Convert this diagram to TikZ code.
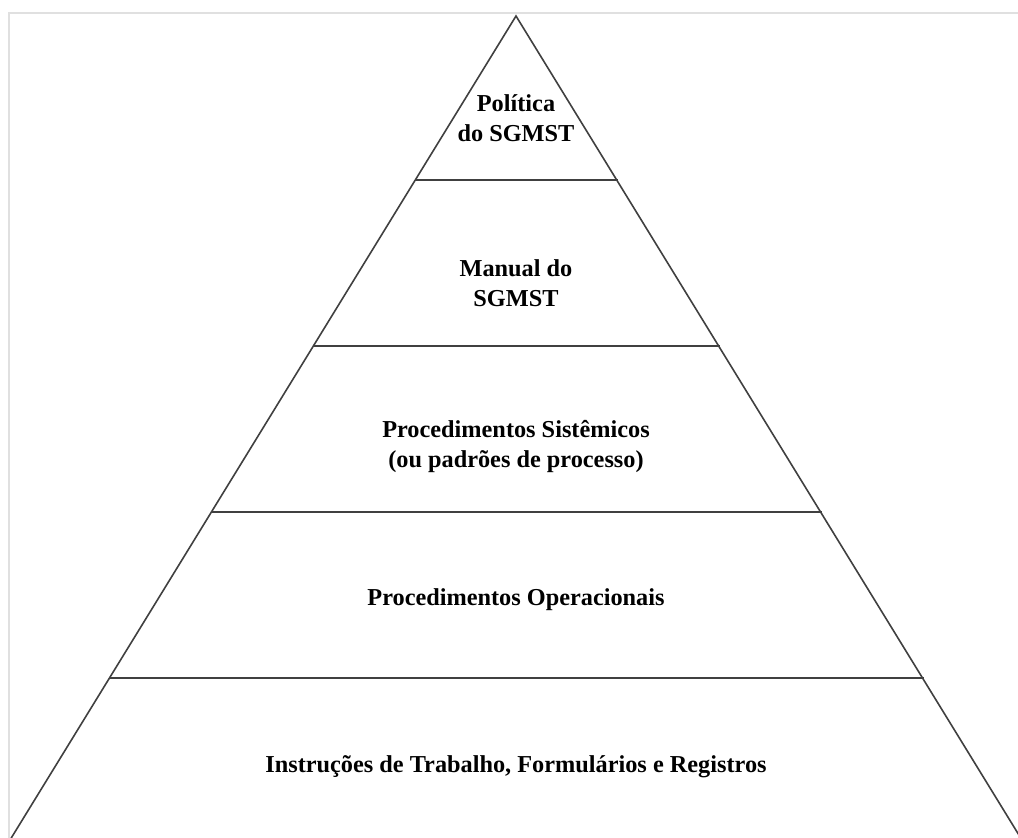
\documentclass[tikz,border=0pt]{standalone}
\usepackage{fontspec}
\setmainfont{Liberation Serif}
\begin{document}
\begin{tikzpicture}[x=1pt,y=-1pt,
  edge/.style={draw=black!75,line width=1.6pt},
  frame/.style={draw=black!12,line width=1.8pt},
  lbl/.style={font=\bfseries\fontsize{24.3}{30}\selectfont,align=center,text=black,inner sep=0pt}]
\useasboundingbox (0,0) rectangle (1018,838);
\begin{scope}
\clip (0,0) rectangle (1018,838);
\coordinate (fa) at (1018,13);
\coordinate (fb) at (9,13);
\coordinate (fc) at (9,840);
\draw[frame] (fa) -- (fb) -- (fc);
\coordinate (apex) at (516,16);
\coordinate (bl) at (10,840);
\coordinate (br) at (1022,840);
\draw[edge] (bl) -- (apex) -- (br);
\coordinate (l1) at (415,180); \coordinate (r1) at (618,180);
\coordinate (l2) at (313,346); \coordinate (r2) at (720,346);
\coordinate (l3) at (211,512); \coordinate (r3) at (822,512);
\coordinate (l4) at (109,678); \coordinate (r4) at (924,678);
\draw[edge] (l1) -- (r1);
\draw[edge] (l2) -- (r2);
\draw[edge] (l3) -- (r3);
\draw[edge] (l4) -- (r4);
\end{scope}
\node[lbl] (t1) at (516,118) {Política\\do SGMST};
\node[lbl] (t2) at (516,283) {Manual do\\SGMST};
\node[lbl] (t3) at (516,447) {Procedimentos Sistêmicos\\(ou padrões de processo)};
\node[lbl] (t4) at (516,600) {Procedimentos Operacionais};
\node[lbl] (t5) at (516,767) {Instruções de Trabalho, Formulários e Registros};
\end{tikzpicture}
\end{document}
